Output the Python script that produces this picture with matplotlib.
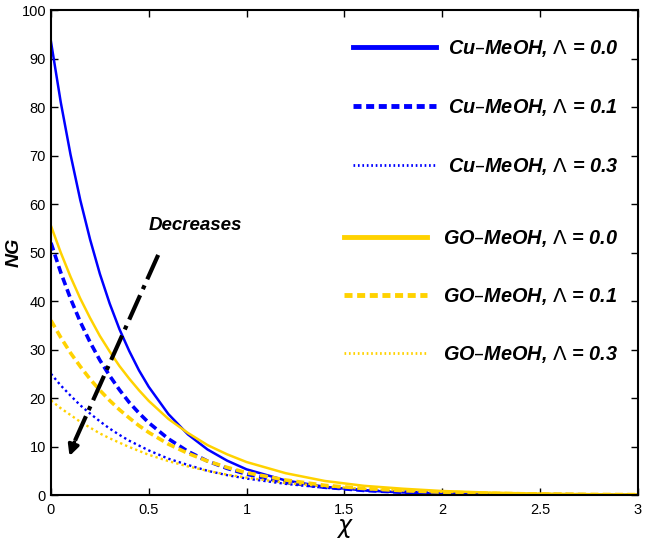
import matplotlib
matplotlib.use("Agg")
import matplotlib.pyplot as plt

plt.rcParams['font.family'] = ['Liberation Sans', 'DejaVu Sans']
plt.rcParams['mathtext.fontset'] = 'dejavusans'

x = [0, 0.05, 0.1, 0.15, 0.2, 0.25, 0.3, 0.35, 0.4, 0.45, 0.5,
     0.6, 0.7, 0.8, 0.9, 1.0, 1.2, 1.4, 1.6, 1.8, 2.0, 2.25, 2.5, 2.75, 3.0]

cu_00 = [93.5, 81.0, 70.2, 60.8, 52.7, 45.6, 39.5, 34.2, 29.7, 25.7, 22.3,
         16.7, 12.5, 9.4, 7.1, 5.3, 3.0, 1.7, 0.95, 0.53, 0.30, 0.14, 0.07, 0.04, 0.02]
cu_01 = [52.0, 45.9, 40.5, 35.7, 31.5, 27.8, 24.6, 21.7, 19.1, 16.9, 14.9,
         11.6, 9.0, 7.0, 5.5, 4.3, 2.6, 1.6, 0.95, 0.58, 0.35, 0.19, 0.10, 0.05, 0.03]
cu_03 = [25.0, 22.6, 20.5, 18.5, 16.8, 15.2, 13.7, 12.4, 11.2, 10.2, 9.2,
         7.5, 6.2, 5.0, 4.1, 3.4, 2.3, 1.5, 1.0, 0.68, 0.46, 0.28, 0.17, 0.10, 0.06]
go_00 = [55.5, 50.0, 45.0, 40.5, 36.5, 32.8, 29.6, 26.6, 24.0, 21.6, 19.4,
         15.7, 12.8, 10.3, 8.4, 6.8, 4.5, 2.9, 1.9, 1.3, 0.83, 0.49, 0.29, 0.17, 0.10]
go_01 = [36.0, 32.5, 29.3, 26.5, 23.9, 21.6, 19.5, 17.6, 15.9, 14.3, 12.9,
         10.5, 8.6, 7.0, 5.7, 4.6, 3.1, 2.0, 1.35, 0.90, 0.60, 0.36, 0.21, 0.13, 0.08]
go_03 = [19.5, 17.9, 16.5, 15.1, 13.9, 12.7, 11.7, 10.8, 9.9, 9.1, 8.3,
         7.0, 5.9, 5.0, 4.2, 3.6, 2.5, 1.8, 1.3, 0.91, 0.65, 0.43, 0.28, 0.18, 0.12]

cu_labels = ["Cu\u2013MeOH, $\\Lambda$ = 0.0", "Cu\u2013MeOH, $\\Lambda$ = 0.1",
             "Cu\u2013MeOH, $\\Lambda$ = 0.3"]
go_labels = ["GO\u2013MeOH, $\\Lambda$ = 0.0", "GO\u2013MeOH, $\\Lambda$ = 0.1",
             "GO\u2013MeOH, $\\Lambda$ = 0.3"]

blue = '#0000FF'
gold = '#FFD200'

fig = plt.figure(figsize=(6.45, 5.44), dpi=100)
ax = fig.add_axes([0.079, 0.090, 0.910, 0.8916])

styles = [('-', 1.8), ((0, (2.2, 1.2)), 2.6), ((0, (1, 1.3)), 1.7)]

cu_lines = []
for y, lab, (ls, lw) in zip([cu_00, cu_01, cu_03], cu_labels, styles):
    l, = ax.plot(x, y, color=blue, linestyle=ls, lw=lw, label=lab)
    cu_lines.append(l)
go_lines = []
for y, lab, (ls, lw) in zip([go_00, go_01, go_03], go_labels, styles):
    l, = ax.plot(x, y, color=gold, linestyle=ls, lw=lw, label=lab)
    go_lines.append(l)

ax.set_xlim(0, 3)
ax.set_ylim(0, 100)
ax.set_xticks([0, 0.5, 1, 1.5, 2, 2.5, 3])
ax.set_xticklabels(['0', '0.5', '1', '1.5', '2', '2.5', '3'])
ax.set_yticks(range(0, 101, 10))
ax.tick_params(direction='in', top=True, right=True, length=5, width=1,
               labelsize=10.5)
ax.tick_params(axis='x', pad=6)
for s in ax.spines.values():
    s.set_linewidth(1.5)

ax.set_xlabel('$\\chi$', fontsize=17, labelpad=0)
ax.set_ylabel('NG', fontsize=14, fontweight='bold', fontstyle='italic')
ax.yaxis.set_label_coords(-0.049, 0.5)

# arrow
ax.plot([0.548, 0.115], [49.5, 10.5], color='k', linestyle='-.', lw=3)
ax.annotate('', xy=(0.09, 7.5), xytext=(0.125, 11.5),
            arrowprops=dict(arrowstyle='-|>', color='k', lw=2.5, mutation_scale=16))
ax.text(0.74, 55.5, 'Decreases', fontsize=13.5, fontweight='bold', fontstyle='italic',
        ha='center', va='center')

fp = dict(size=14.3, weight='bold', style='italic')
leg1 = ax.legend(handles=cu_lines, loc='upper left', bbox_to_anchor=(0.484, 0.979),
                 frameon=False, prop=fp, handlelength=4.2, handletextpad=0.6,
                 labelspacing=1.9)
ax.add_artist(leg1)
leg2 = ax.legend(handles=go_lines, loc='upper left', bbox_to_anchor=(0.468, 0.587),
                 frameon=False, prop=fp, handlelength=4.2, handletextpad=0.8,
                 labelspacing=1.85)
for leg in (leg1, leg2):
    hl = leg.get_lines()
    hl[0].set_linewidth(3.5)
    hl[1].set_linewidth(3.5)
    hl[1].set_linestyle((0, (1.65, 0.95)))
    hl[2].set_linewidth(2.0)
    hl[2].set_linestyle((0, (0.6, 1.0)))

fig.savefig('out.png', dpi=100)
